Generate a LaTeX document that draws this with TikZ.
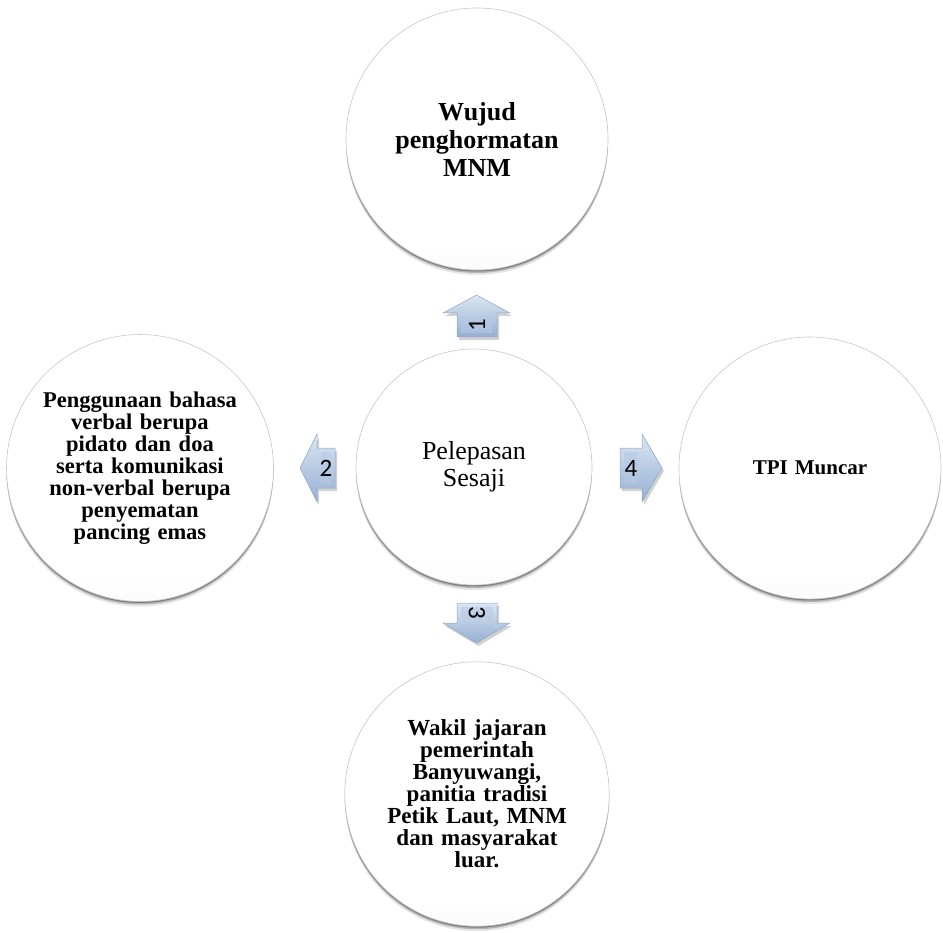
\documentclass[tikz,border=0pt]{standalone}
\usepackage{fontspec}
\setmainfont{Liberation Serif}
\newfontfamily\numfont{Carlito}
\usetikzlibrary{shadows}
\pgfdeclareverticalshading{bubshade}{100bp}{color(0bp)=(black!30); color(9bp)=(black!12); color(20bp)=(black!3); color(30bp)=(white); color(100bp)=(white)}
\definecolor{arrowmid}{HTML}{B7CAE3}
\definecolor{arrowlight}{HTML}{DCE6F2}
\definecolor{arrowdark}{HTML}{95AFD3}
\definecolor{arrowedge}{HTML}{8EA7CA}
\tikzset{
  bubble/.style={circle, inner sep=0pt, align=center, shading=bubshade,
    draw=black!22, line width=0.6pt,
    drop shadow={shadow xshift=0pt, shadow yshift=-5pt, shadow scale=1.0, opacity=.10, fill=black},
    drop shadow={shadow xshift=0pt, shadow yshift=-3pt, shadow scale=1.0, opacity=.22, fill=black},
    drop shadow={shadow xshift=0pt, shadow yshift=-1.5pt, shadow scale=1.0, opacity=.30, fill=black}},
  bigbub/.style={bubble, minimum size=262pt},
  midbub/.style={bubble, minimum size=236pt},
  arrowbody/.style={top color=arrowlight, bottom color=arrowdark, draw=arrowedge, line width=0.5pt},
  arrowshadow/.style={fill=black, opacity=.18},
  arrowinner/.style={fill=arrowmid, opacity=.55},
  numlabel/.style={font=\numfont\fontsize{25}{25}\selectfont, inner sep=0pt}
}
\begin{document}
\begin{tikzpicture}[x=1pt,y=-1pt]
\useasboundingbox (0,0) rectangle (943,933);

% circles
\node[bigbub, text width=200pt, font=\bfseries\fontsize{26}{28}\selectfont] (top) at (477,139) {Wujud\\penghormatan\\MNM};
\node[bigbub, text width=220pt, font=\bfseries\fontsize{22.5}{22}\selectfont] (left) at (140,468) {Penggunaan bahasa\\verbal berupa\\pidato dan doa\\serta komunikasi\\non-verbal berupa\\penyematan\\pancing emas};
\node[bigbub, text width=220pt, font=\bfseries\fontsize{21}{24}\selectfont] (right) at (810,468) {TPI Muncar};
\node[bigbub, text width=220pt, font=\bfseries\fontsize{23}{22}\selectfont] (bottom) at (477,794) {Wakil jajaran\\pemerintah\\Banyuwangi,\\panitia tradisi\\Petik Laut, MNM\\dan masyarakat\\luar.};
\node[midbub, text width=200pt, font=\fontsize{26}{27}\selectfont] (center) at (474,467) {Pelepasan\\Sesaji};

% arrows: shadows
\fill[arrowshadow] (459,340) -- (459,316) -- (445,316) -- (478.5,298) -- (512,316) -- (499,316) -- (499,340) -- cycle;
\fill[arrowshadow] (337,451) -- (319,451) -- (319,437) -- (302,471) -- (319,505) -- (319,491) -- (337,491) -- cycle;
\fill[arrowshadow] (622,451) -- (644,451) -- (644,437) -- (664,471) -- (644,505) -- (644,491) -- (622,491) -- cycle;
\fill[arrowshadow] (459,606) -- (499,606) -- (499,626) -- (512,626) -- (478.5,646) -- (445,626) -- (459,626) -- cycle;

% arrows: bodies
\draw[arrowbody] (457,337) -- (457,313) -- (443,313) -- (476.5,295) -- (510,313) -- (497,313) -- (497,337) -- cycle;
\fill[arrowinner] (461,333) -- (461,317) -- (492,317) -- (492,333) -- cycle;
\draw[arrowbody] (335,448) -- (317,448) -- (317,434) -- (300,468) -- (317,502) -- (317,488) -- (335,488) -- cycle;
\fill[arrowinner] (331,452) -- (321,452) -- (321,484) -- (331,484) -- cycle;
\draw[arrowbody] (620,448) -- (642,448) -- (642,434) -- (662,468) -- (642,502) -- (642,488) -- (620,488) -- cycle;
\fill[arrowinner] (624,452) -- (638,452) -- (638,484) -- (624,484) -- cycle;
\draw[arrowbody] (457,603) -- (497,603) -- (497,623) -- (510,623) -- (476.5,643) -- (443,623) -- (457,623) -- cycle;
\fill[arrowinner] (461,607) -- (493,607) -- (493,619) -- (461,619) -- cycle;

% arrow numbers
\node[numlabel, rotate=90] (n1) at (477,325) {1};
\node[numlabel] (n2) at (326,468) {2};
\node[numlabel] (n4) at (631,468) {4};
\node[numlabel, rotate=-90] (n3) at (477,613) {3};
\end{tikzpicture}
\end{document}
